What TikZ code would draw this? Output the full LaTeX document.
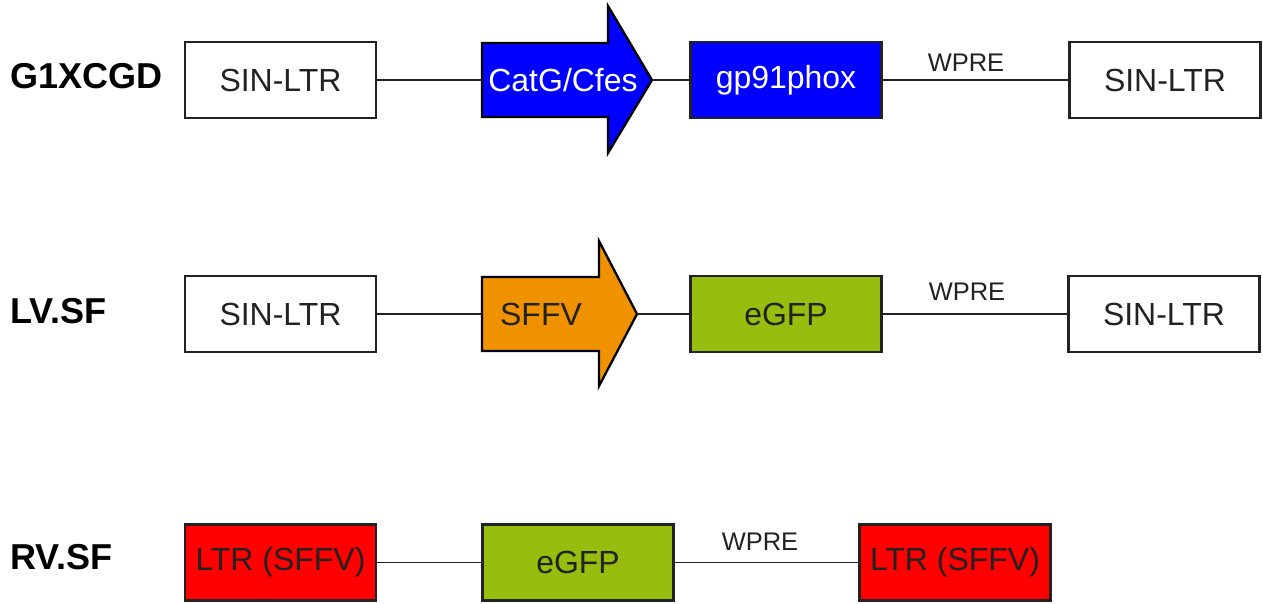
\documentclass[tikz,border=0pt]{standalone}
\usepackage{fontspec}
\setmainfont{Liberation Sans}
\usetikzlibrary{positioning}
\definecolor{promblue}{RGB}{0,0,255}
\definecolor{sffvorange}{RGB}{240,146,0}
\definecolor{gfpgreen}{RGB}{151,189,14}
\definecolor{ltrred}{RGB}{255,0,0}
\definecolor{edge}{RGB}{34,34,34}
\tikzset{
element/.style={draw=edge, line width=1.3pt, minimum width=3.82cm, minimum height=1.52cm, inner sep=0pt, font=\fontsize{18.2}{21}\selectfont, text=edge},
promoter/.style={draw=black, line width=1.3pt, line join=miter},
promtext/.style={inner sep=0pt, font=\fontsize{18.2}{21}\selectfont},
link/.style={draw=edge, line width=1pt},
vector/.style={font=\bfseries\fontsize{20.5}{23}\selectfont, inner sep=0pt, anchor=west},
tag/.style={font=\fontsize{14.5}{17}\selectfont, text=edge, inner sep=0pt}}

\begin{document}
\begin{tikzpicture}[x=0.02cm, y=-0.02cm]

                %1px = 0.02cm, y runs downwards
                \useasboundingbox (0,0) rectangle (1263,603);

                % G1XCGD
                \node[vector] (g1xcgd) at (10,76) {G1XCGD};
                \node[element] (ltr1a) at (280.5,80) {SIN-LTR};
                \draw[promoter, fill=promblue] (482,43) -- (608,43) -- (608,6) -- (652,80) -- (608,153) -- (608,117) -- (482,117) -- cycle;
                \coordinate (catgback) at (482,80);
                \coordinate (catgtip) at (652,80);
                \node[promtext, text=white] (catg) at (563,80) {CatG/Cfes};
                \node[element, fill=promblue, text=white] (gp91) at (786,80) {gp91phox};
                \node[element] (ltr1b) at (1165,80) {SIN-LTR};
                \draw[link] (ltr1a) -- (catgback);
                \draw[link] (catgtip) -- (gp91);
                \draw[link] (gp91) -- (ltr1b);
                \node[tag] (wpre1) at (966,63) {WPRE};

                % LV.SF
                \node[vector] (lvsf) at (10,311) {LV.SF};
                \node[element] (ltr2a) at (280.5,314) {SIN-LTR};
                \draw[promoter, fill=sffvorange] (482,277) -- (599,277) -- (599,241) -- (637,314) -- (599,386) -- (599,351) -- (482,351) -- cycle;
                \coordinate (sffvback) at (482,314);
                \coordinate (sffvtip) at (637,314);
                \node[promtext, text=edge] (sffv) at (541,314) {SFFV};
                \node[element, fill=gfpgreen] (gfp2) at (786,314) {eGFP};
                \node[element] (ltr2b) at (1164,314) {SIN-LTR};
                \draw[link] (ltr2a) -- (sffvback);
                \draw[link] (sffvtip) -- (gfp2);
                \draw[link] (gfp2) -- (ltr2b);
                \node[tag] (wpre2) at (967,292) {WPRE};

                % RV.SF
                \node[vector] (rvsf) at (10,557) {RV.SF};
                \node[element, fill=ltrred] (ltr3a) at (280.5,562.5) {LTR (SFFV)};
                \node[element, fill=gfpgreen] (gfp3) at (578,562.5) {eGFP};
                \node[element, fill=ltrred] (ltr3b) at (955,562.5) {LTR (SFFV)};
                \draw[link] (ltr3a) -- (gfp3);
                \draw[link] (gfp3) -- (ltr3b);
                \node[tag] (wpre3) at (760,542) {WPRE};

            \end{tikzpicture}
\end{document}
